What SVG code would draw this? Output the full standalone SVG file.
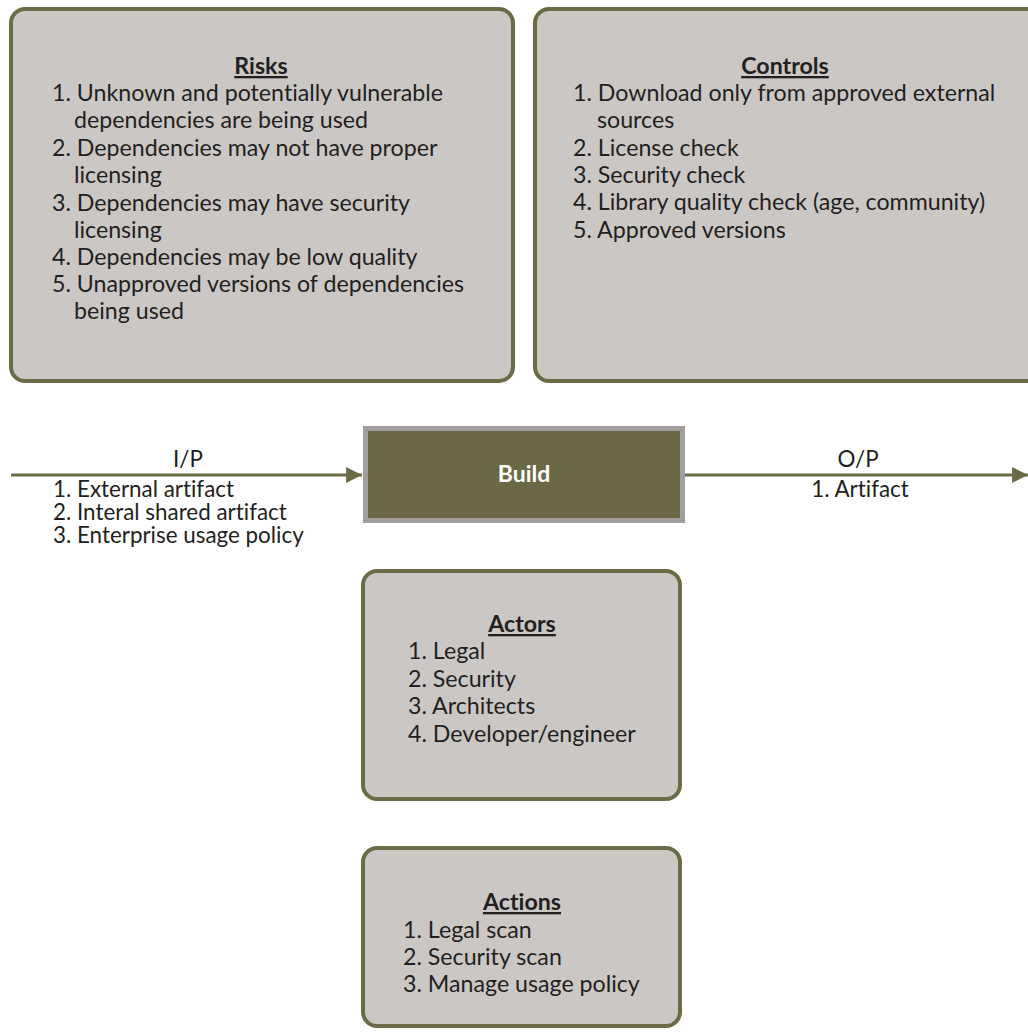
<svg xmlns="http://www.w3.org/2000/svg" width="1028" height="1032" viewBox="0 0 1028 1032">
  <defs>
    <style>
      text { font-family: Lato, "Open Sans", sans-serif; font-variant-ligatures: none; fill: #231f20; }
      .box { fill: #cbc7c5; stroke: #6b6b47; stroke-width: 4; }
      .txt { font-size: 23.2px; }
      .ttl { font-size: 23.2px; font-weight: 700; text-decoration: underline; text-anchor: middle; }
      .lbl { font-size: 22.4px; }
      .flow { stroke: #6b6b47; stroke-width: 3; fill: none; }
    </style>
    <marker id="arrow" viewBox="0 0 10 10" refX="10" refY="5" markerWidth="5.3" markerHeight="5.3" orient="auto" markerUnits="strokeWidth">
      <path d="M0,0 L10,5 L0,10 Z" fill="#6b6b47"/>
    </marker>
  </defs>

  <rect width="1028" height="1032" fill="#ffffff"/>

  <!-- Risks -->
  <g id="risks">
    <rect class="box" x="11" y="9" width="502" height="372" rx="14"/>
    <text class="ttl" x="261" y="74">Risks</text>
    <text class="txt">
      <tspan x="52" y="101">1. Unknown and potentially vulnerable</tspan>
      <tspan x="74" y="128">dependencies are being used</tspan>
      <tspan x="52" y="156">2. Dependencies may not have proper</tspan>
      <tspan x="74" y="183">licensing</tspan>
      <tspan x="52" y="211">3. Dependencies may have security</tspan>
      <tspan x="74" y="238">licensing</tspan>
      <tspan x="52" y="265">4. Dependencies may be low quality</tspan>
      <tspan x="52" y="292">5. Unapproved versions of dependencies</tspan>
      <tspan x="74" y="319">being used</tspan>
    </text>
  </g>

  <!-- Controls -->
  <g id="controls">
    <rect class="box" x="535" y="9" width="510" height="372" rx="14"/>
    <text class="ttl" x="785" y="74">Controls</text>
    <text class="txt">
      <tspan x="573" y="101">1. Download only from approved external</tspan>
      <tspan x="597" y="128">sources</tspan>
      <tspan x="573" y="156">2. License check</tspan>
      <tspan x="573" y="183">3. Security check</tspan>
      <tspan x="573" y="210">4. Library quality check (age, community)</tspan>
      <tspan x="573" y="238">5. Approved versions</tspan>
    </text>
  </g>

  <!-- Build -->
  <g id="build">
    <rect x="365.5" y="428.5" width="317" height="92" fill="#6b6945" stroke="#a29e9e" stroke-width="5"/>
    <text x="524" y="482" text-anchor="middle" font-size="23" font-weight="700" style="fill:#ffffff">Build</text>
  </g>

  <!-- Actors -->
  <g id="actors">
    <rect class="box" x="363" y="571" width="317" height="228" rx="14"/>
    <text class="ttl" x="522" y="632">Actors</text>
    <text class="txt">
      <tspan x="408" y="659">1. Legal</tspan>
      <tspan x="408" y="687">2. Security</tspan>
      <tspan x="408" y="714">3. Architects</tspan>
      <tspan x="408" y="742">4. Developer/engineer</tspan>
    </text>
  </g>

  <!-- Actions -->
  <g id="actions">
    <rect class="box" x="363" y="848" width="317" height="178" rx="14"/>
    <text class="ttl" x="522" y="910">Actions</text>
    <text class="txt">
      <tspan x="403" y="938">1. Legal scan</tspan>
      <tspan x="403" y="965">2. Security scan</tspan>
      <tspan x="403" y="992">3. Manage usage policy</tspan>
    </text>
  </g>

  <!-- Connectors -->
  <g id="connectors">
    <line class="flow" x1="11" y1="475" x2="362" y2="475" marker-end="url(#arrow)"/>
    <line class="flow" x1="685" y1="475" x2="1028" y2="475" marker-end="url(#arrow)"/>
    <text class="lbl" x="188" y="467" text-anchor="middle">I/P</text>
    <text class="lbl">
      <tspan x="53" y="497">1. External artifact</tspan>
      <tspan x="53" y="520">2. Interal shared artifact</tspan>
      <tspan x="53" y="543">3. Enterprise usage policy</tspan>
    </text>
    <text class="lbl" x="858" y="467" text-anchor="middle">O/P</text>
    <text class="lbl" x="860" y="497" text-anchor="middle">1. Artifact</text>
  </g>
</svg>
